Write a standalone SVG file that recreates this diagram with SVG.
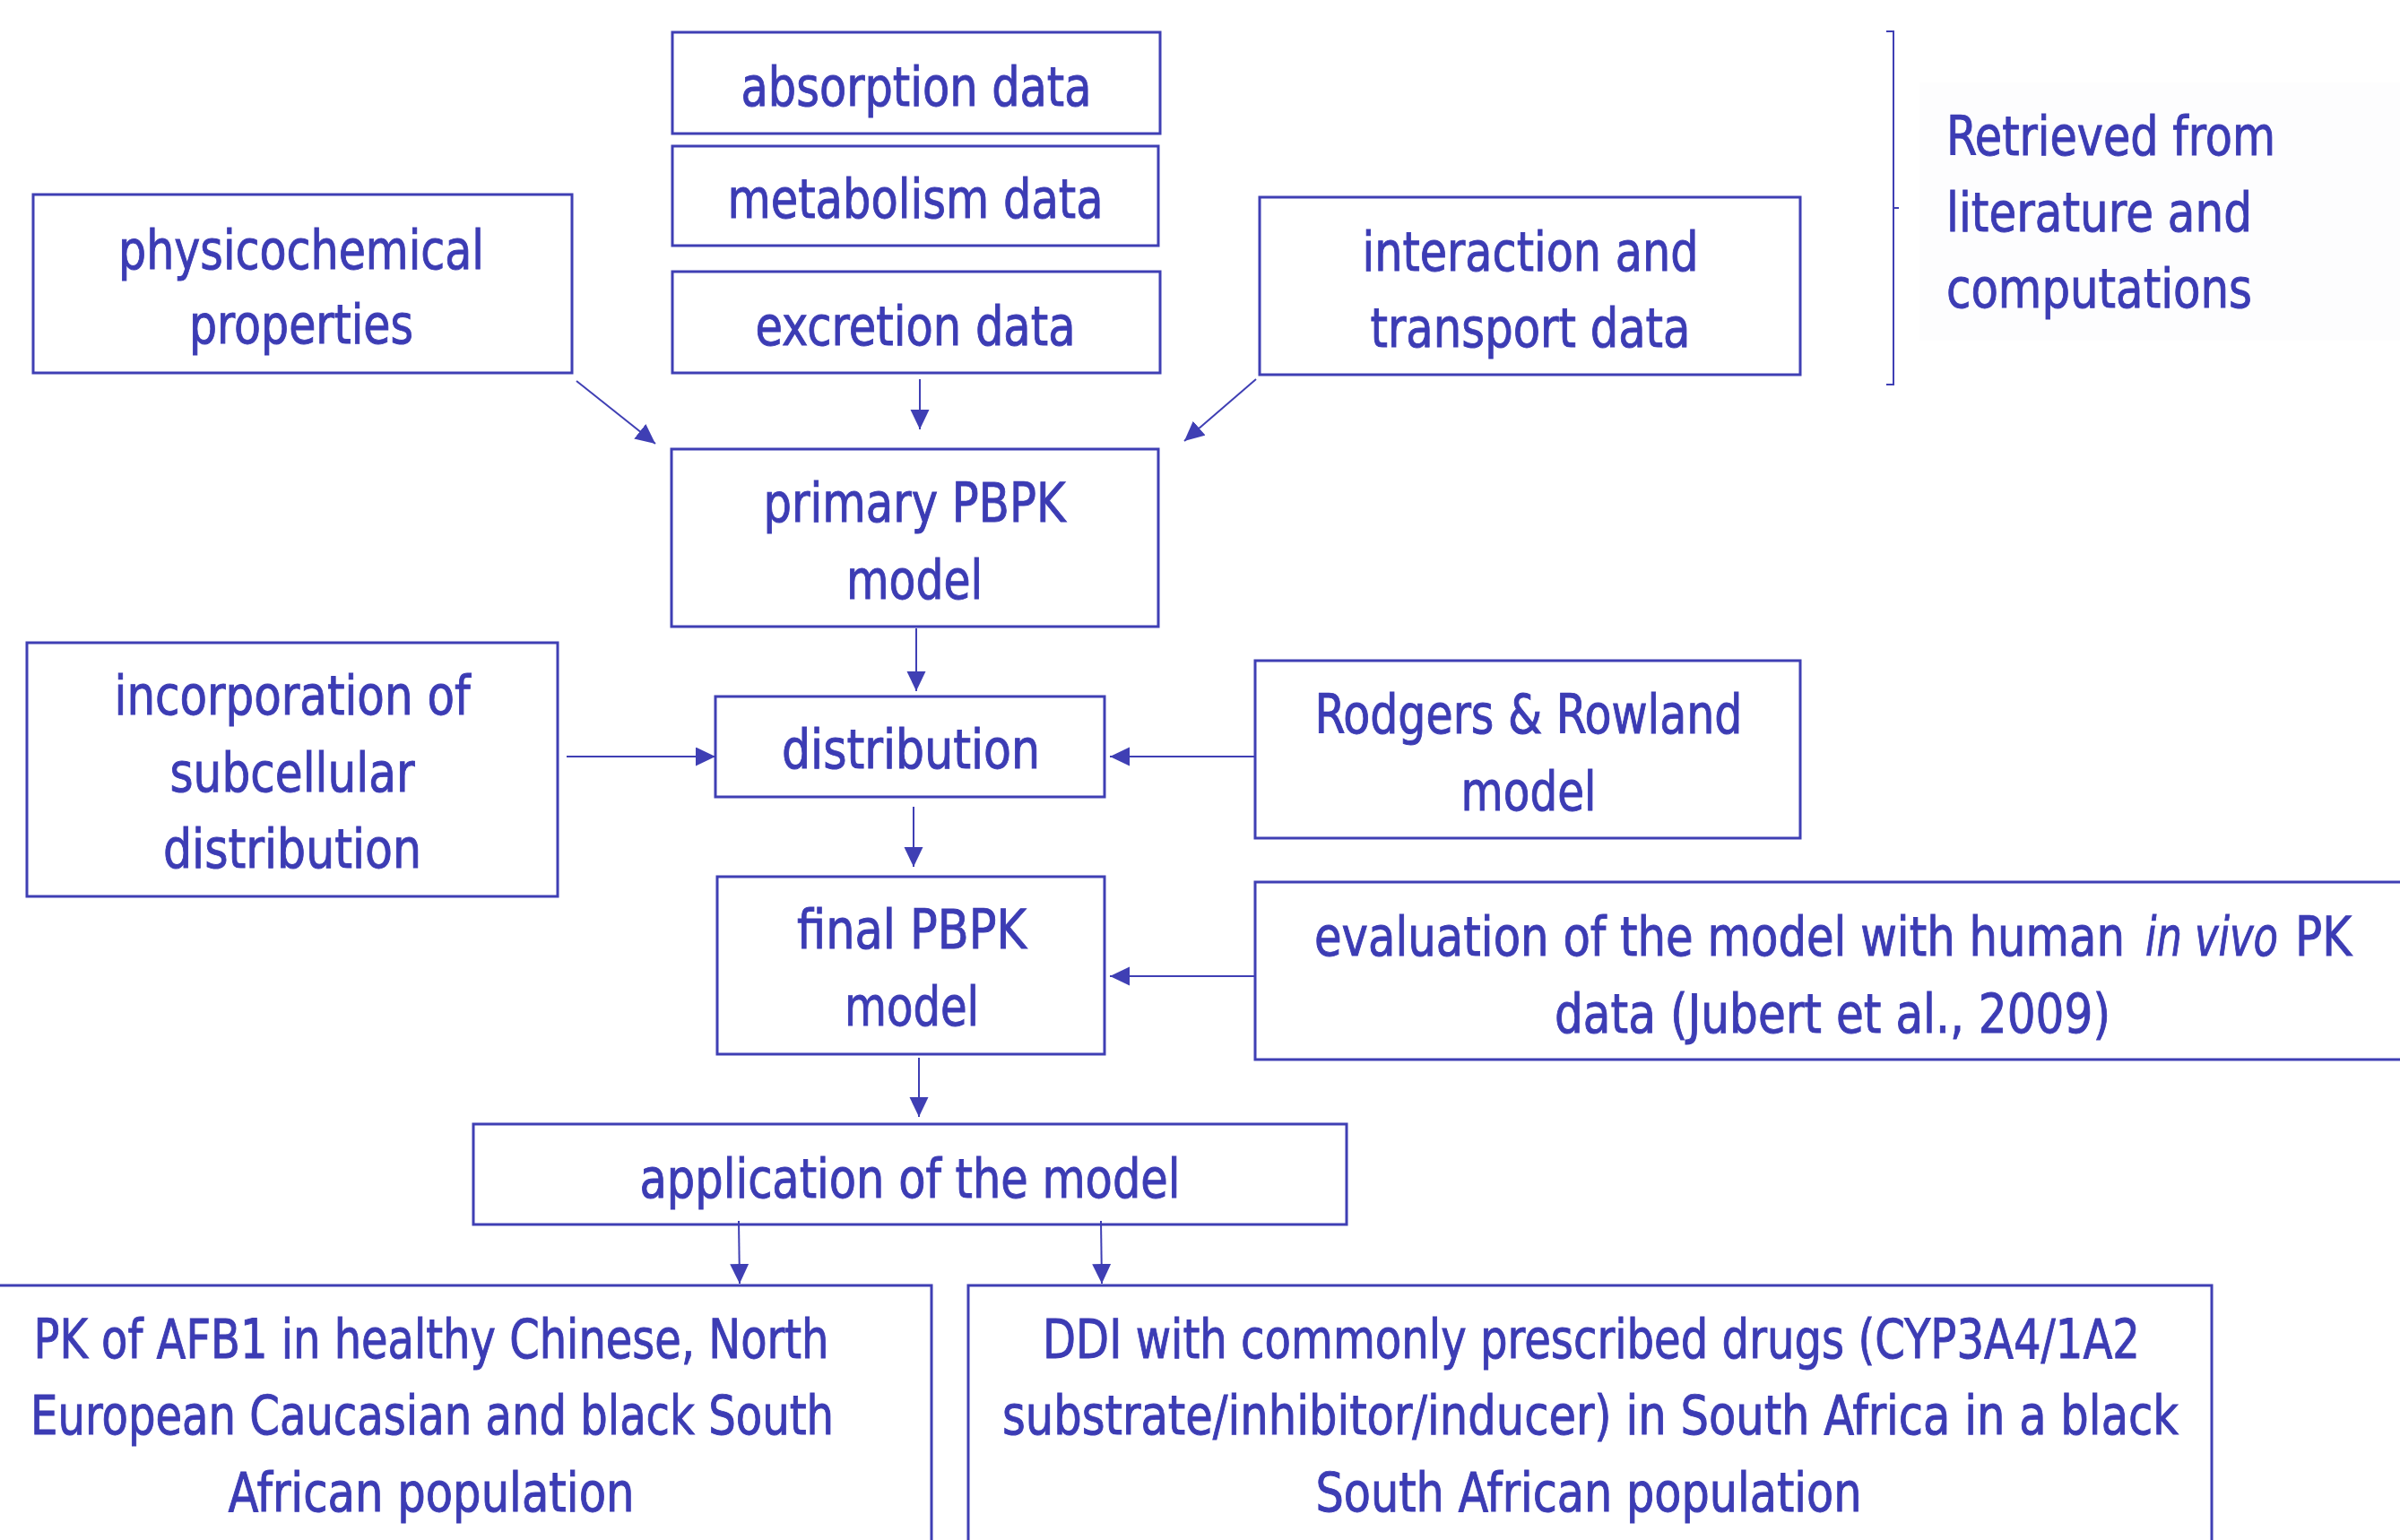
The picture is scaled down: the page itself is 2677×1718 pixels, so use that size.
<svg xmlns="http://www.w3.org/2000/svg" width="2677" height="1718" viewBox="0 0 2677 1718">
<style>
.box{fill:#ffffff;stroke:#3f3fb4;stroke-width:3}
.t{font-family:"DejaVu Sans Condensed","DejaVu Sans",sans-serif;font-size:60px;fill:#3c3cb4;stroke:#3c3cb4;stroke-width:0.9;text-anchor:middle;font-stretch:condensed}
.ts{text-anchor:start}
.c{stroke:#3f3fb4;stroke-width:2;fill:none}
</style>
<defs>
<marker id="ah" markerUnits="userSpaceOnUse" markerWidth="24" markerHeight="22" refX="22" refY="10.5" orient="auto">
<path d="M0,0 L22,10.5 L0,21 z" fill="#3f3fb4"/>
</marker>
</defs>
<rect width="2677" height="1718" fill="#ffffff"/>

<g id="retrieved-note">
<rect x="2141" y="92" width="540" height="288" fill="#fdfdfe"/>
<path class="c" d="M2104,35 L2112,35 L2112,429 L2104,429 M2112,232 L2118,232"/>
<text class="t ts" x="2171" y="173" textLength="367" lengthAdjust="spacingAndGlyphs">Retrieved from</text>
<text class="t ts" x="2171" y="258" textLength="341" lengthAdjust="spacingAndGlyphs">literature and</text>
<text class="t ts" x="2171" y="343" textLength="341" lengthAdjust="spacingAndGlyphs">computations</text>
</g>

<g id="absorption">
<rect class="box" x="750" y="36" width="544" height="113"/>
<text class="t" x="1022" y="118" textLength="391" lengthAdjust="spacingAndGlyphs">absorption data</text>
</g>
<g id="metabolism">
<rect class="box" x="750" y="163" width="542" height="111"/>
<text class="t" x="1021" y="243" textLength="419" lengthAdjust="spacingAndGlyphs">metabolism data</text>
</g>
<g id="excretion">
<rect class="box" x="750" y="303" width="544" height="113"/>
<text class="t" x="1021" y="385" textLength="357" lengthAdjust="spacingAndGlyphs">excretion data</text>
</g>
<g id="physicochemical">
<rect class="box" x="37" y="217" width="601" height="199"/>
<text class="t" x="336" y="300" textLength="408" lengthAdjust="spacingAndGlyphs">physicochemical</text>
<text class="t" x="336" y="383" textLength="250" lengthAdjust="spacingAndGlyphs">properties</text>
</g>
<g id="interaction">
<rect class="box" x="1405" y="220" width="603" height="198"/>
<text class="t" x="1707" y="302" textLength="375" lengthAdjust="spacingAndGlyphs">interaction and</text>
<text class="t" x="1707" y="387" textLength="357" lengthAdjust="spacingAndGlyphs">transport data</text>
</g>
<g id="primary">
<rect class="box" x="749" y="501" width="543" height="198"/>
<text class="t" x="1020" y="582" textLength="337" lengthAdjust="spacingAndGlyphs">primary PBPK</text>
<text class="t" x="1020" y="668" textLength="152" lengthAdjust="spacingAndGlyphs">model</text>
</g>
<g id="incorporation">
<rect class="box" x="30" y="717" width="592" height="283"/>
<text class="t" x="326" y="797" textLength="397" lengthAdjust="spacingAndGlyphs">incorporation of</text>
<text class="t" x="326" y="883" textLength="273" lengthAdjust="spacingAndGlyphs">subcellular</text>
<text class="t" x="326" y="968" textLength="288" lengthAdjust="spacingAndGlyphs">distribution</text>
</g>
<g id="distribution">
<rect class="box" x="798" y="777" width="434" height="112"/>
<text class="t" x="1016" y="857" textLength="288" lengthAdjust="spacingAndGlyphs">distribution</text>
</g>
<g id="rodgers">
<rect class="box" x="1400" y="737" width="608" height="198"/>
<text class="t" x="1705" y="818" textLength="477" lengthAdjust="spacingAndGlyphs">Rodgers &amp; Rowland</text>
<text class="t" x="1705" y="904" textLength="151" lengthAdjust="spacingAndGlyphs">model</text>
</g>
<g id="final">
<rect class="box" x="800" y="978" width="432" height="198"/>
<text class="t" x="1017" y="1058" textLength="256" lengthAdjust="spacingAndGlyphs">final PBPK</text>
<text class="t" x="1017" y="1144" textLength="150" lengthAdjust="spacingAndGlyphs">model</text>
</g>
<g id="evaluation">
<rect class="box" x="1400" y="984" width="1300" height="198"/>
<text class="t ts" x="1466" y="1066" textLength="904" lengthAdjust="spacingAndGlyphs">evaluation of the model with human</text>
<text class="t ts" x="2393" y="1066" textLength="148" lengthAdjust="spacingAndGlyphs" font-style="italic">in vivo</text>
<text class="t ts" x="2560" y="1066" textLength="63" lengthAdjust="spacingAndGlyphs">PK</text>
<text class="t" x="2044" y="1152" textLength="620" lengthAdjust="spacingAndGlyphs">data (Jubert et al., 2009)</text>
</g>
<g id="application">
<rect class="box" x="528" y="1254" width="974" height="112"/>
<text class="t" x="1015" y="1336" textLength="603" lengthAdjust="spacingAndGlyphs">application of the model</text>
</g>
<g id="pk-afb1">
<rect class="box" x="-5" y="1434" width="1044" height="290"/>
<text class="t" x="481" y="1515" textLength="887" lengthAdjust="spacingAndGlyphs">PK of AFB1 in healthy Chinese, North</text>
<text class="t" x="482" y="1600" textLength="896" lengthAdjust="spacingAndGlyphs">European Caucasian and black South</text>
<text class="t" x="481" y="1686" textLength="453" lengthAdjust="spacingAndGlyphs">African population</text>
</g>
<g id="ddi">
<rect class="box" x="1080" y="1434" width="1387" height="290"/>
<text class="t" x="1775" y="1515" textLength="1224" lengthAdjust="spacingAndGlyphs">DDI with commonly prescribed drugs (CYP3A4/1A2</text>
<text class="t" x="1774" y="1600" textLength="1312" lengthAdjust="spacingAndGlyphs">substrate/inhibitor/inducer) in South Africa in a black</text>
<text class="t" x="1772" y="1686" textLength="609" lengthAdjust="spacingAndGlyphs">South African population</text>
</g>

<g id="connectors">
<line class="c" x1="643" y1="425" x2="731" y2="495" marker-end="url(#ah)"/>
<line class="c" x1="1026" y1="423" x2="1026" y2="479" marker-end="url(#ah)"/>
<line class="c" x1="1401" y1="423" x2="1321" y2="492" marker-end="url(#ah)"/>
<line class="c" x1="1022" y1="701" x2="1022" y2="771" marker-end="url(#ah)"/>
<line class="c" x1="632" y1="844" x2="798" y2="844" marker-end="url(#ah)"/>
<line class="c" x1="1400" y1="844" x2="1238" y2="844" marker-end="url(#ah)"/>
<line class="c" x1="1019" y1="900" x2="1019" y2="967" marker-end="url(#ah)"/>
<line class="c" x1="1400" y1="1089" x2="1238" y2="1089" marker-end="url(#ah)"/>
<line class="c" x1="1025" y1="1180" x2="1025" y2="1246" marker-end="url(#ah)"/>
<line class="c" x1="824" y1="1362" x2="825" y2="1432" marker-end="url(#ah)"/>
<line class="c" x1="1228" y1="1362" x2="1229" y2="1432" marker-end="url(#ah)"/>
</g>
</svg>
